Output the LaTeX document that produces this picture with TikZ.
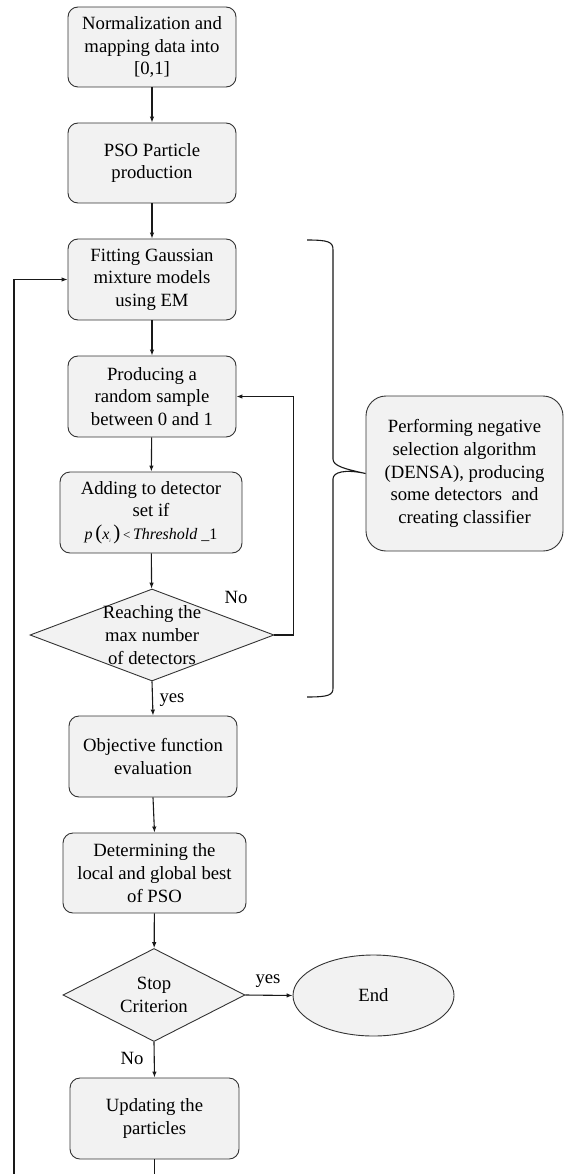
\documentclass[tikz,border=0pt]{standalone}
\usepackage{fontspec}
\setmainfont{Liberation Serif}
\usetikzlibrary{shapes.geometric,arrows.meta}
\definecolor{boxfill}{HTML}{F2F2F2}
\definecolor{edgecol}{HTML}{333333}
\begin{document}
\begin{tikzpicture}[x=1pt,y=-1pt,
  every node/.style={font=\fontsize{18.7}{22.6}\selectfont},
  procbox/.style={draw=edgecol,fill=boxfill,line width=0.9pt,rounded corners=10pt,
    minimum height=81pt,align=center,inner sep=0pt},
  diabox/.style={draw=edgecol,fill=boxfill,line width=0.9pt,diamond,inner sep=0pt},
  arr/.style={draw=black!90,line width=1.1pt,-{Latex[length=6pt,width=4.5pt]}},
  plain/.style={draw=black!90,line width=1.1pt},
  lbl/.style={inner sep=0pt}
]
\useasboundingbox (0,0) rectangle (565,1174);

\node[procbox,minimum width=168pt,minimum height=80pt] (b1) at (152,47) {Normalization and\\mapping data into\\\mbox{[0,1]}};
\node[procbox,minimum width=168pt,minimum height=80pt] (b2) at (152,163) {PSO Particle\\production};
\node[procbox,minimum width=168pt] (b3) at (152,279.5) {Fitting Gaussian\\mixture models\\using EM};
\node[procbox,minimum width=168pt] (b4) at (152,396.5) {Producing a\\random sample\\between 0 and 1};
\node[procbox,minimum width=182pt] (b5) at (151,512.5) {Adding to detector\\set if\\{\fontsize{16}{16}\selectfont\textit{p}\,{\fontsize{21}{21}\selectfont(}\textit{x}\raisebox{-3pt}{\fontsize{5}{5}\selectfont\textit{i}}\,{\fontsize{21}{21}\selectfont)}\,{\fontsize{13}{13}\selectfont<}\,\textit{Threshold}\ \_1}};
\node[diabox,minimum width=244pt,minimum height=92pt,
  label={[align=center,lbl]center:Reaching the\\max number\\of detectors}] (d1) at (152,635) {};
\node[procbox,minimum width=168pt] (b6) at (153,756.5) {Objective function\\evaluation};
\node[procbox,minimum width=183pt,minimum height=80pt] (b7) at (154.5,873) {Determining the\\local and global best\\of PSO};
\node[diabox,minimum width=182pt,minimum height=93pt,
  label={[align=center,lbl]center:Stop\\Criterion}] (d2) at (154,995) {};
\node[draw=edgecol,fill=boxfill,line width=0.9pt,ellipse,minimum width=161pt,minimum height=81pt,inner sep=0pt] (end) at (373.5,995.5) {End};
\node[procbox,minimum width=169pt] (b8) at (154.5,1118.5) {Updating the\\particles};
\node[procbox,minimum width=197pt,minimum height=155pt,rounded corners=20pt] (densa) at (464.5,473.5)
  {Performing negative\\selection algorithm\\(DENSA), producing\\some detectors\ \ and\\creating classifier};

% labels
\node[lbl] (lno1) at (236,597) {No};
\node[lbl] (lyes1) at (172,700) {yes};
\node[lbl] (lyes2) at (268,981) {yes};
\node[lbl] (lno2) at (132,1058) {No};

% connectors
\draw[arr] (b1) -- (b2);
\draw[arr] (b2) -- (b3);
\draw[arr] (b3) -- (b4);
\draw[arr] (b4) -- (b5);
\draw[arr] (b5) -- (d1);
\draw[arr] (d1.south) -- (b6.north);
\draw[arr] (b6.south) -- (b7.north);
\draw[arr] (b7) -- (d2);
\draw[arr] (d2.south) -- (b8.north);
\draw[arr] (d2.east) -- (end.west);
\draw[arr] (d1.east) -- ++(19,0) |- (b4.east);

\coordinate (lb) at (14,1174);
\coordinate (ub) at (154.5,1174);
\draw[plain] (b8.south) -- (ub);
\draw[arr] (lb) |- (b3.west);

% brace
\coordinate (tip) at (densa.west);
\draw[plain,line width=1.1pt] (307,240) .. controls (329,240) and (333,242) .. (333,250)
  -- (333,459) .. controls (333,466) and (345,469) .. (tip)
  .. controls (345,469) and (333,472) .. (333,479)
  -- (333,688) .. controls (333,695) and (329,697) .. (307,697);
\end{tikzpicture}
\end{document}
